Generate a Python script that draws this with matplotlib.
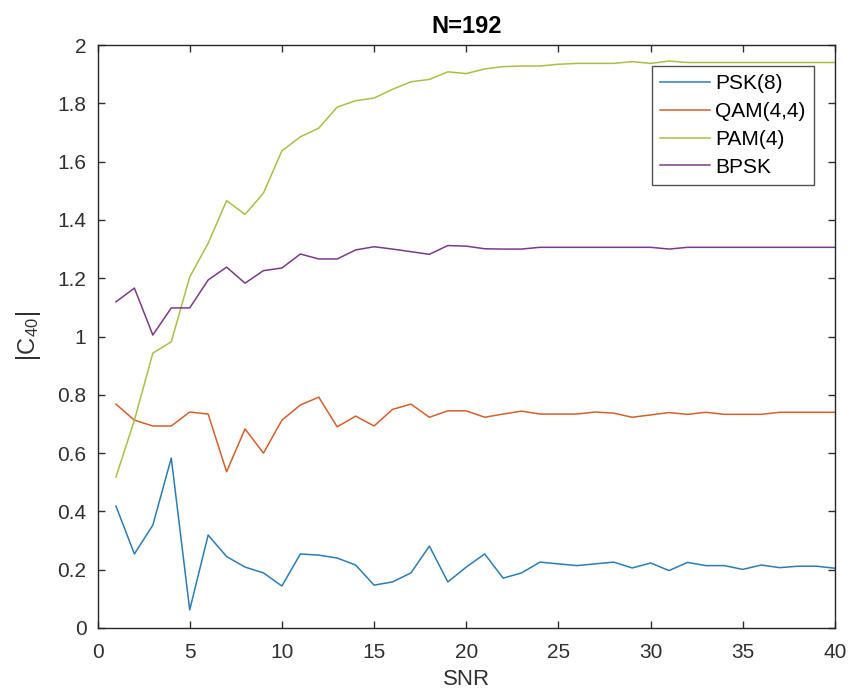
import matplotlib
matplotlib.use("Agg")
import matplotlib.pyplot as plt

# --- Data: |C40| vs SNR for each modulation ---
snr = list(range(1, 41))

psk8 = [0.418, 0.254, 0.353, 0.583, 0.062, 0.319, 0.245, 0.209, 0.189, 0.144,
        0.254, 0.250, 0.240, 0.216, 0.147, 0.158, 0.189, 0.281, 0.158, 0.209,
        0.254, 0.171, 0.189, 0.226, 0.220, 0.214, 0.220, 0.226, 0.206, 0.223,
        0.197, 0.225, 0.214, 0.214, 0.201, 0.216, 0.207, 0.212, 0.212, 0.205]

qam44 = [0.768, 0.713, 0.693, 0.693, 0.741, 0.734, 0.536, 0.683, 0.600, 0.713,
         0.765, 0.792, 0.690, 0.727, 0.693, 0.750, 0.768, 0.723, 0.745, 0.745,
         0.723, 0.734, 0.744, 0.734, 0.734, 0.734, 0.741, 0.737, 0.723, 0.731,
         0.739, 0.733, 0.740, 0.733, 0.733, 0.733, 0.740, 0.740, 0.740, 0.740]

pam4 = [0.518, 0.713, 0.943, 0.982, 1.204, 1.320, 1.466, 1.419, 1.492, 1.637,
        1.685, 1.715, 1.787, 1.809, 1.818, 1.848, 1.874, 1.882, 1.908, 1.902,
        1.918, 1.926, 1.928, 1.928, 1.934, 1.937, 1.937, 1.937, 1.943, 1.937,
        1.945, 1.940, 1.940, 1.940, 1.940, 1.940, 1.940, 1.940, 1.940, 1.940]

bpsk = [1.119, 1.166, 1.005, 1.098, 1.098, 1.194, 1.238, 1.183, 1.226, 1.235,
        1.283, 1.266, 1.266, 1.297, 1.308, 1.300, 1.291, 1.282, 1.312, 1.310,
        1.301, 1.300, 1.300, 1.306, 1.306, 1.306, 1.306, 1.306, 1.306, 1.306,
        1.300, 1.306, 1.306, 1.306, 1.306, 1.306, 1.306, 1.306, 1.306, 1.306]

labels = ["PSK(8)", "QAM(4,4)", "PAM(4)", "BPSK"]
colors = ["#2a7db5", "#d65f2c", "#a9bf45", "#7a3a88"]

plt.rcParams["font.family"] = ["Liberation Sans", "DejaVu Sans"]

fig = plt.figure(figsize=(8.51, 6.97), dpi=100)
ax = fig.add_axes([0.1146, 0.099, 0.8666, 0.8364])

for y, lab, c in zip([psk8, qam44, pam4, bpsk], labels, colors):
    ax.plot(snr, y, color=c, lw=1.1, label=lab)

ax.set_xlim(0, 40)
ax.set_ylim(0, 2)
ax.set_xticks(range(0, 41, 5))
ax.set_yticks([0, 0.2, 0.4, 0.6, 0.8, 1.0, 1.2, 1.4, 1.6, 1.8, 2.0])
ax.set_yticklabels(["0", "0.2", "0.4", "0.6", "0.8", "1", "1.2", "1.4", "1.6", "1.8", "2"])

ax.tick_params(direction="in", top=True, right=True, length=5, width=1,
               labelsize=15, colors="#303030")
ax.tick_params(axis="x", pad=11)
ax.tick_params(axis="y", pad=8)
for s in ax.spines.values():
    s.set_color("#262626")
    s.set_linewidth(1)

ax.set_xlabel("SNR", fontsize=16, color="#303030", labelpad=5)
ax.set_ylabel(r"$|\mathregular{C_{40}}|$", fontsize=17, color="#303030", labelpad=10)
ax.set_title("N=192", fontsize=17, fontweight="bold", color="black", pad=9)

leg = ax.legend(loc="upper right", bbox_to_anchor=(0.9715, 0.964), fontsize=15,
                frameon=True, fancybox=False, handlelength=2.4, handletextpad=0.25,
                borderpad=0.4, labelspacing=0.42, borderaxespad=0)
leg.get_frame().set_edgecolor("#262626")
leg.get_frame().set_linewidth(1)

fig.savefig("out.png", dpi=100)
